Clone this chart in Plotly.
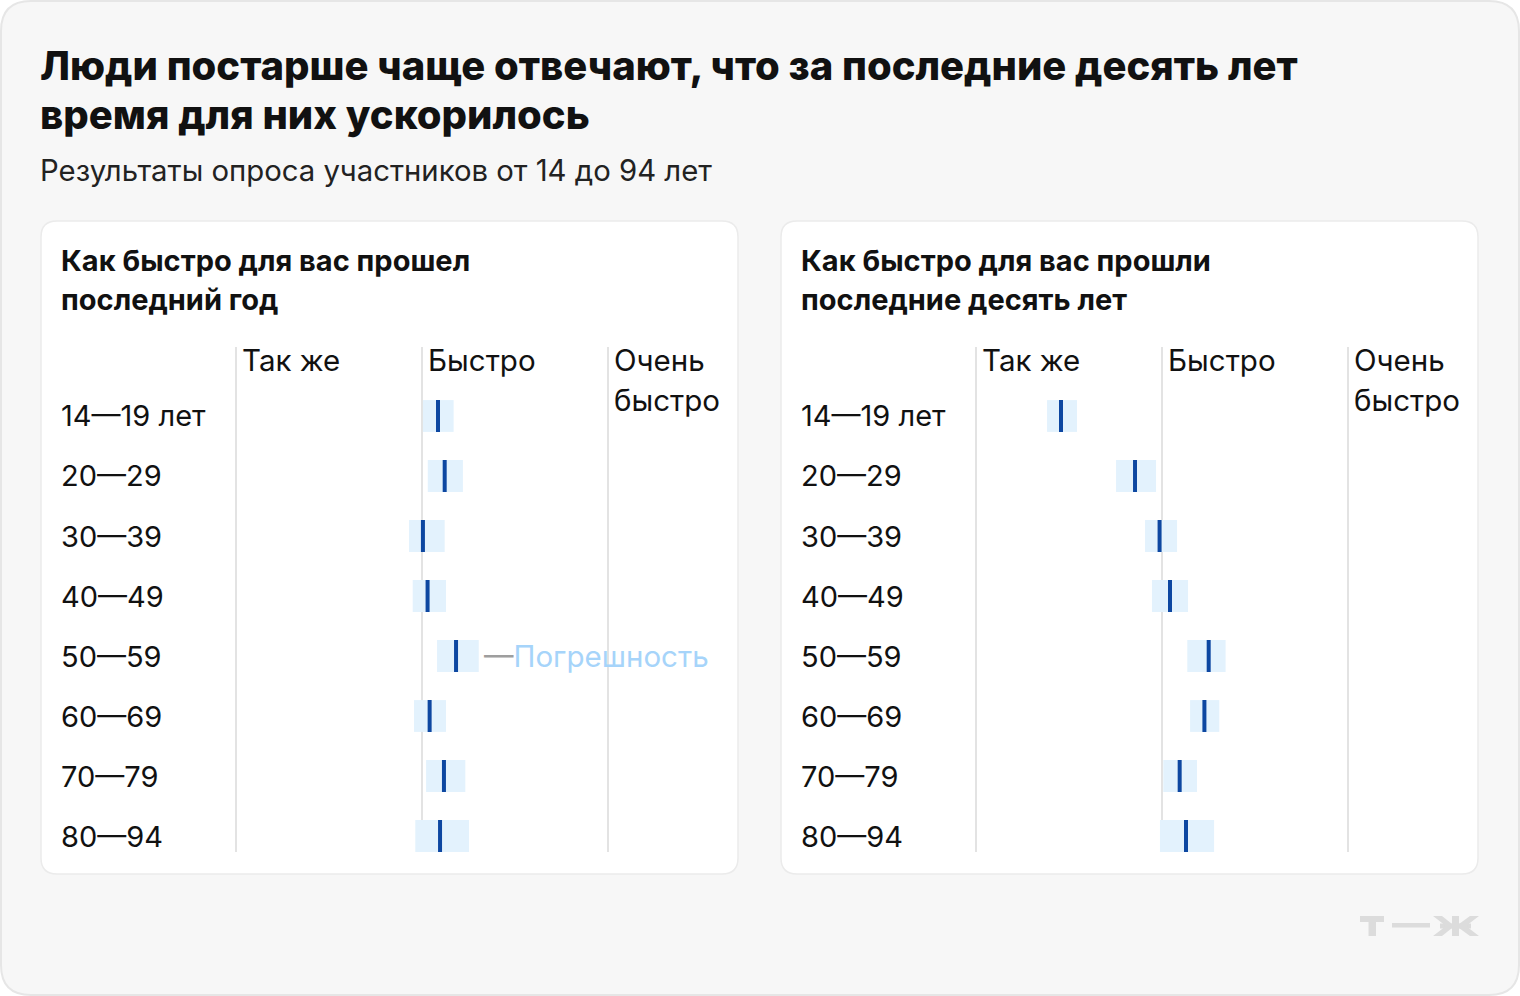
import plotly.graph_objects as go

# ---------------- data ----------------
age_groups = ["14—19 лет", "20—29", "30—39", "40—49", "50—59", "60—69", "70—79", "80—94"]
scale_labels = ["Так же", "Быстро", "Очень быстро"]
scale_values = [0, 1, 2]

# last year (Так же = 0, Быстро = 1, Очень быстро = 2)
year_mean = [1.086, 1.122, 1.005, 1.030, 1.183, 1.041, 1.118, 1.097]
year_low = [1.005, 1.031, 0.930, 0.950, 1.081, 0.957, 1.022, 0.964]
year_high = [1.170, 1.220, 1.122, 1.129, 1.305, 1.129, 1.233, 1.253]

# last ten years
decade_mean = [0.457, 0.855, 0.987, 1.043, 1.251, 1.228, 1.095, 1.129]
decade_low = [0.382, 0.753, 0.909, 0.946, 1.136, 1.151, 1.007, 0.989]
decade_high = [0.543, 0.968, 1.081, 1.140, 1.342, 1.308, 1.188, 1.280]

title_lines = ["Люди постарше чаще отвечают, что за последние десять лет",
               "время для них ускорилось"]
subtitle = "Результаты опроса участников от 14 до 94 лет"
panel_titles = [["Как быстро для вас прошел", "последний год"],
                ["Как быстро для вас прошли", "последние десять лет"]]
error_label = "Погрешность"

# ---------------- style ----------------
W, H = 1520, 996
FONT = "Inter"
BAND = "#E3F2FD"
MARK = "#0D47A1"
GRID = "#E3E3E3"


def px(x):
    return x / W


def py(y):
    return 1 - y / H


def rrect(x0, y0, x1, y1, r):
    pts = [
        ("M", (x0 + r, y0)), ("L", (x1 - r, y0)), ("Q", (x1, y0), (x1, y0 + r)),
        ("L", (x1, y1 - r)), ("Q", (x1, y1), (x1 - r, y1)),
        ("L", (x0 + r, y1)), ("Q", (x0, y1), (x0, y1 - r)),
        ("L", (x0, y0 + r)), ("Q", (x0, y0), (x0 + r, y0)),
    ]
    s = ""
    for p in pts:
        cmd = p[0]
        coords = " ".join(f"{px(a):.6f},{py(b):.6f}" for a, b in p[1:])
        s += f"{cmd} {coords} "
    return s + "Z"


fig = go.Figure()

panels = [
    ("x", "y", year_mean, year_low, year_high),
    ("x2", "y2", decade_mean, decade_low, decade_high),
]

for xa, ya, mean, low, high in panels:
    fig.add_trace(go.Bar(
        y=age_groups, base=low, x=[h - l for h, l in zip(high, low)],
        orientation="h", width=0.53, marker=dict(color=BAND, line=dict(width=0)),
        xaxis=xa, yaxis=ya, showlegend=False, hoverinfo="skip",
    ))
    fig.add_trace(go.Scatter(
        y=age_groups, x=mean, mode="markers",
        marker=dict(symbol="line-ns", size=32 / 1.4, line=dict(width=4, color=MARK), color=MARK),
        xaxis=xa, yaxis=ya, showlegend=False, hoverinfo="skip",
    ))

# axes: 186 px per scale step; "Так же" at x=236 (left) / 976 (right)
xr = [(60 - 236) / 186, (730 - 236) / 186]
ax_common = dict(range=xr, showgrid=False, zeroline=False, showticklabels=False,
                 showline=False, ticks="", fixedrange=True)
ay_common = dict(type="category", categoryarray=age_groups, range=[7.5, -0.5],
                 showgrid=False, zeroline=False, showticklabels=False, showline=False,
                 ticks="", fixedrange=True, domain=[py(866), py(386)])

fig.update_layout(
    xaxis=dict(domain=[px(60), px(730)], anchor="y", **ax_common),
    yaxis=dict(anchor="x", **ay_common),
    xaxis2=dict(domain=[px(800), px(1470)], anchor="y2", **ax_common),
    yaxis2=dict(anchor="x2", **ay_common),
    barmode="overlay",
)

shapes = []
# outer card
shapes.append(dict(type="path", xref="paper", yref="paper", path=rrect(1, 1, 1519, 995, 30),
                   fillcolor="#F7F7F7", line=dict(color="#E6E6E6", width=2), layer="below"))
# panels
for x0 in (41, 781):
    shapes.append(dict(type="path", xref="paper", yref="paper",
                       path=rrect(x0, 221, x0 + 697, 874, 16),
                       fillcolor="#FFFFFF", line=dict(color="#EBEBEB", width=1.5), layer="below"))
# reference lines
for xa in ("x", "x2"):
    for v in scale_values:
        shapes.append(dict(type="line", xref=xa, yref="paper", x0=v, x1=v,
                           y0=py(852), y1=py(347), line=dict(color=GRID, width=2), layer="below"))

# logo Т—Ж
LOGO = "#DCDCDC"
shapes += [
    dict(type="rect", xref="paper", yref="paper", x0=px(1360), x1=px(1384), y0=py(922), y1=py(916),
         fillcolor=LOGO, line=dict(width=0)),
    dict(type="rect", xref="paper", yref="paper", x0=px(1368.5), x1=px(1376), y0=py(936), y1=py(916),
         fillcolor=LOGO, line=dict(width=0)),
    dict(type="rect", xref="paper", yref="paper", x0=px(1392), x1=px(1430), y0=py(927.5), y1=py(923),
         fillcolor=LOGO, line=dict(width=0)),
    dict(type="rect", xref="paper", yref="paper", x0=px(1452), x1=px(1459), y0=py(936), y1=py(916),
         fillcolor=LOGO, line=dict(width=0)),
    dict(type="rect", xref="paper", yref="paper", x0=px(1440), x1=px(1471), y0=py(928.5), y1=py(923.5),
         fillcolor=LOGO, line=dict(width=0)),
    dict(type="path", xref="paper", yref="paper",
         path=f"M {px(1433)},{py(916)} L {px(1442)},{py(916)} L {px(1452)},{py(924)} L {px(1452)},{py(928)} "
              f"L {px(1442)},{py(936)} L {px(1433)},{py(936)} L {px(1446)},{py(926)} Z",
         fillcolor=LOGO, line=dict(width=0)),
    dict(type="path", xref="paper", yref="paper",
         path=f"M {px(1479)},{py(916)} L {px(1470)},{py(916)} L {px(1459)},{py(924)} L {px(1459)},{py(928)} "
              f"L {px(1470)},{py(936)} L {px(1479)},{py(936)} L {px(1466)},{py(926)} Z",
         fillcolor=LOGO, line=dict(width=0)),
]

ann = []
# title
for i, line in enumerate(title_lines):
    ann.append(dict(text=line, xref="paper", yref="paper", x=px(38), y=py(65 + 50 * i),
                    xanchor="left", yanchor="middle", showarrow=False,
                    font=dict(family=FONT, size=40, color="#111111", weight=800)))
ann.append(dict(text=subtitle, xref="paper", yref="paper", x=px(38), y=py(170),
                xanchor="left", yanchor="middle", showarrow=False,
                font=dict(family=FONT, size=29.3, color="#222222")))
# panel titles
for k, x0 in enumerate((59, 799)):
    for i, line in enumerate(panel_titles[k]):
        ann.append(dict(text=line, xref="paper", yref="paper", x=px(x0), y=py(260 + 40 * i),
                        xanchor="left", yanchor="middle", showarrow=False,
                        font=dict(family=FONT, size=29, color="#111111", weight=700)))
# column headers
for xa in ("x", "x2"):
    for v, lab in zip(scale_values, scale_labels):
        lines = [lab] if lab == "Так же" else lab.split(" ")
        for i, w in enumerate(lines):
            ann.append(dict(text=w, xref=xa, yref="paper", x=v, xshift=4, y=py(360 + 40 * i),
                            xanchor="left", yanchor="middle", showarrow=False,
                            font=dict(family=FONT, size=29.5, color="#111111")))
# row labels
for ya, x0 in (("y", 59), ("y2", 799)):
    for i, g in enumerate(age_groups):
        ann.append(dict(text=g, xref="paper", yref=ya, x=px(x0), y=i,
                        xanchor="left", yanchor="middle", showarrow=False,
                        font=dict(family=FONT, size=29, color="#111111")))
# error label
ann.append(dict(text='<span style="color:#9E9E9E">—</span>' + error_label,
                xref="x", yref="y", x=year_high[4], xshift=3, y=4,
                xanchor="left", yanchor="middle", showarrow=False,
                font=dict(family=FONT, size=29.5, color="#A6D4FA")))

fig.update_layout(
    width=W, height=H, margin=dict(l=0, r=0, t=0, b=0),
    paper_bgcolor="#FFFFFF", plot_bgcolor="rgba(0,0,0,0)",
    shapes=shapes, annotations=ann,
)

fig.write_html("out.html", config=dict(displayModeBar=False, staticPlot=True),
               post_script="document.body.style.margin='0';document.body.style.padding='0';")
